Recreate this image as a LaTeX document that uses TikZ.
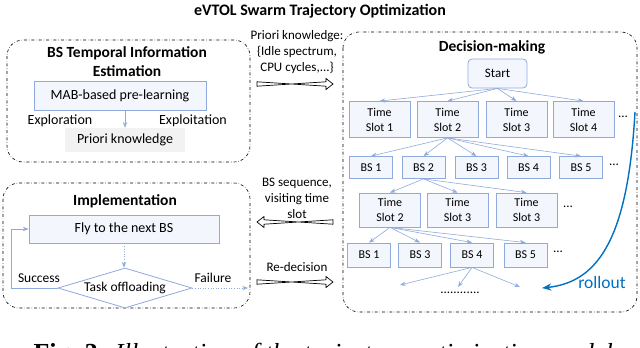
\documentclass[tikz,border=0pt]{standalone}
\usepackage{fontspec}
\setmainfont{Carlito}
\newfontfamily\capfont{Liberation Serif}
\usetikzlibrary{arrows.meta,shapes.geometric}
\definecolor{boxblue}{HTML}{8FAADC}
\definecolor{boxfill}{HTML}{F3F6FC}
\definecolor{knowgray}{HTML}{F2F2F2}
\definecolor{rollblue}{HTML}{0070C0}
% hollow block arrow from #1 to #2, signed head length #3
\newcommand\fatarrow[3]{%
  \draw[line width=0.7pt,fill=white,line join=miter]
    ([yshift=-2.2pt]#1) -- ([shift={({-1*(#3)},-2.2)}]#2) -- ([shift={({-1*(#3)},-5.5)}]#2)
    -- (#2) -- ([shift={({-1*(#3)},5.5)}]#2) -- ([shift={({-1*(#3)},2.2)}]#2)
    -- ([yshift=2.2pt]#1) -- cycle;}

\begin{document}
\begin{tikzpicture}[x=1pt,y=-1pt,>=Stealth,
  region/.style={draw,dash dot,rounded corners=16pt,line width=0.6pt},
  head/.style={font=\bfseries\fontsize{15.5}{19}\selectfont,align=center},
  txt/.style={font=\fontsize{14}{16}\selectfont},
  mid/.style={font=\fontsize{13}{16}\selectfont,align=center},
  tbox/.style={draw=boxblue,fill=boxfill,line width=0.8pt,inner sep=0pt,align=center,font=\fontsize{12}{15}\selectfont},
  tslot/.style={tbox,minimum width=61pt,minimum height=36pt},
  bsbox/.style={tbox,minimum width=43pt,minimum height=22pt},
  tarrow/.style={->,boxblue,line width=0.6pt}]
  \path[use as bounding box] (0,0) rectangle (640,348);
  \clip (0,0) rectangle (640,348);

  \node[font=\bfseries\fontsize{16}{19}\selectfont] (title) at (320,11) {eVTOL Swarm Trajectory Optimization};

  % BS temporal information estimation
  \draw[region] (7,40) rectangle (250,162);
  \node[head] (esthead) at (127,62) {BS Temporal Information\\Estimation};
  \node[tbox,font=\fontsize{14}{16}\selectfont,minimum width=172pt,minimum height=29pt] (mab) at (120,95.5) {MAB-based pre-learning};
  \node[txt] (explor) at (60,121) {Exploration};
  \node[txt] (exploit) at (193,121) {Exploitation};
  \node[txt,fill=knowgray,minimum width=120pt,minimum height=24pt,inner sep=0pt] (know) at (125,140) {Priori knowledge};
  \draw[tarrow] (mab.south -| know.north) -- (know.north);

  % implementation
  \draw[region] (3,183) rectangle (250,308);
  \node[head] (imphead) at (125,201) {Implementation};
  \node[tbox,font=\fontsize{14}{16}\selectfont,minimum width=190pt,minimum height=28pt] (fly) at (124,229) {Fly to the next BS};
  \node[diamond,draw=boxblue,line width=0.8pt,fill=white,inner sep=0pt,aspect=3.35,minimum width=134pt,minimum height=40pt,font=\fontsize{13.5}{16}\selectfont] (task) at (125,288) {Task offloading};
  \draw[tarrow,dotted] (fly.south) -- (fly.south |- task.north);
  \draw[tarrow] (task.west) -- ++(-46,0) |- (fly.west);
  \coordinate (failend) at (248,288);
  \draw[tarrow,dotted] (task.east) -- (failend);
  \node[font=\fontsize{13.5}{16}\selectfont] (succ) at (39,278) {Success};
  \node[font=\fontsize{13.5}{16}\selectfont] (fail) at (213,278) {Failure};

  % exchange between the blocks
  \node[mid] (pklab) at (297,52) {Priori knowledge:\\\{Idle spectrum,\\CPU cycles,...\}};
  \coordinate (pkL) at (257,84);
  \coordinate (pkR) at (333,84);
  \fatarrow{pkL}{pkR}{7}
  \node[mid] (seqlab) at (297,198) {BS sequence,\\visiting time\\slot};
  \coordinate (seqL) at (257,222);
  \coordinate (seqR) at (333,222);
  \fatarrow{seqR}{seqL}{-7}
  \node[mid] (redlab) at (297,267) {Re-decision};
  \coordinate (redL) at (257,282);
  \coordinate (redR) at (333,282);
  \fatarrow{redL}{redR}{7}

  % decision-making tree
  \draw[region] (343,32) rectangle (637,312);
  \node[head] (dechead) at (492,47) {Decision-making};
  \node[tbox,rounded corners=4pt,minimum width=59pt,minimum height=29pt,font=\fontsize{13}{15}\selectfont] (start) at (497.5,73.5) {Start};

  \node[tslot] (ta1) at (379.5,119.5) {Time\\Slot 1};
  \node[tslot] (ta2) at (447.5,119.5) {Time\\Slot 2};
  \node[tslot] (ta3) at (516.5,119.5) {Time\\Slot 3};
  \node[tslot] (ta4) at (583.5,119.5) {Time\\Slot 4};
  \node[mid] (tadots) at (623,117) {...};
  \foreach \t in {1,2,3,4}
    \draw[tarrow] (start.south) -- (ta\t.north);

  \node[bsbox] (ba1) at (371,167.5) {BS 1};
  \node[bsbox] (ba2) at (423.5,167.5) {BS 2};
  \node[bsbox] (ba3) at (476.5,167.5) {BS 3};
  \node[bsbox] (ba4) at (528.5,167.5) {BS 4};
  \node[bsbox] (ba5) at (581,167.5) {BS 5};
  \node[mid] (badots) at (614,165) {...};
  \foreach \b in {1,...,5}
    \draw[tarrow] (ta2.south) -- (ba\b.north);

  \node[tslot,minimum height=34pt] (tb1) at (390,210) {Time\\Slot 2};
  \node[tslot,minimum height=34pt] (tb2) at (457.5,210) {Time\\Slot 3};
  \node[tslot,minimum height=34pt] (tb3) at (526.5,210) {Time\\Slot 3};
  \node[mid] (tbdots) at (568,207) {...};
  \foreach \t in {1,2,3}
    \draw[tarrow] (ba2.south) -- (tb\t.north);

  \node[bsbox,minimum height=24pt] (bb1) at (369,255) {BS 1};
  \node[bsbox,minimum height=24pt] (bb2) at (420,255) {BS 3};
  \node[bsbox,minimum height=24pt] (bb3) at (472,255) {BS 4};
  \node[bsbox,minimum height=24pt] (bb4) at (525.5,255) {BS 5};
  \node[mid] (bbdots) at (558,252) {...};
  \foreach \b in {1,...,4}
    \draw[tarrow] (tb1.south) -- (bb\b.north);

  \coordinate (leaf1) at (400,285);
  \coordinate (leaf2) at (458,287);
  \coordinate (leaf3) at (520,287);
  \foreach \l in {1,2,3}
    \draw[tarrow] (bb3.south) -- (leaf\l);
  \node[mid] (leafdots) at (460,293) {............};

  \coordinate (rollS) at (635,112);
  \coordinate (rollE) at (542,288);
  \draw[->,rollblue,line width=1.4pt] (rollS) .. controls (628,235) and (600,282) .. (rollE);
  \node[font=\fontsize{17.5}{20}\selectfont,text=rollblue] (roll) at (602,282) {rollout};

  \node[anchor=base west,font=\capfont\fontsize{26}{30}\selectfont] (cap) at (30,361) {\textbf{Fig. 3:} \textit{Illustration of the trajectory optimization model}};
\end{tikzpicture}
\end{document}
